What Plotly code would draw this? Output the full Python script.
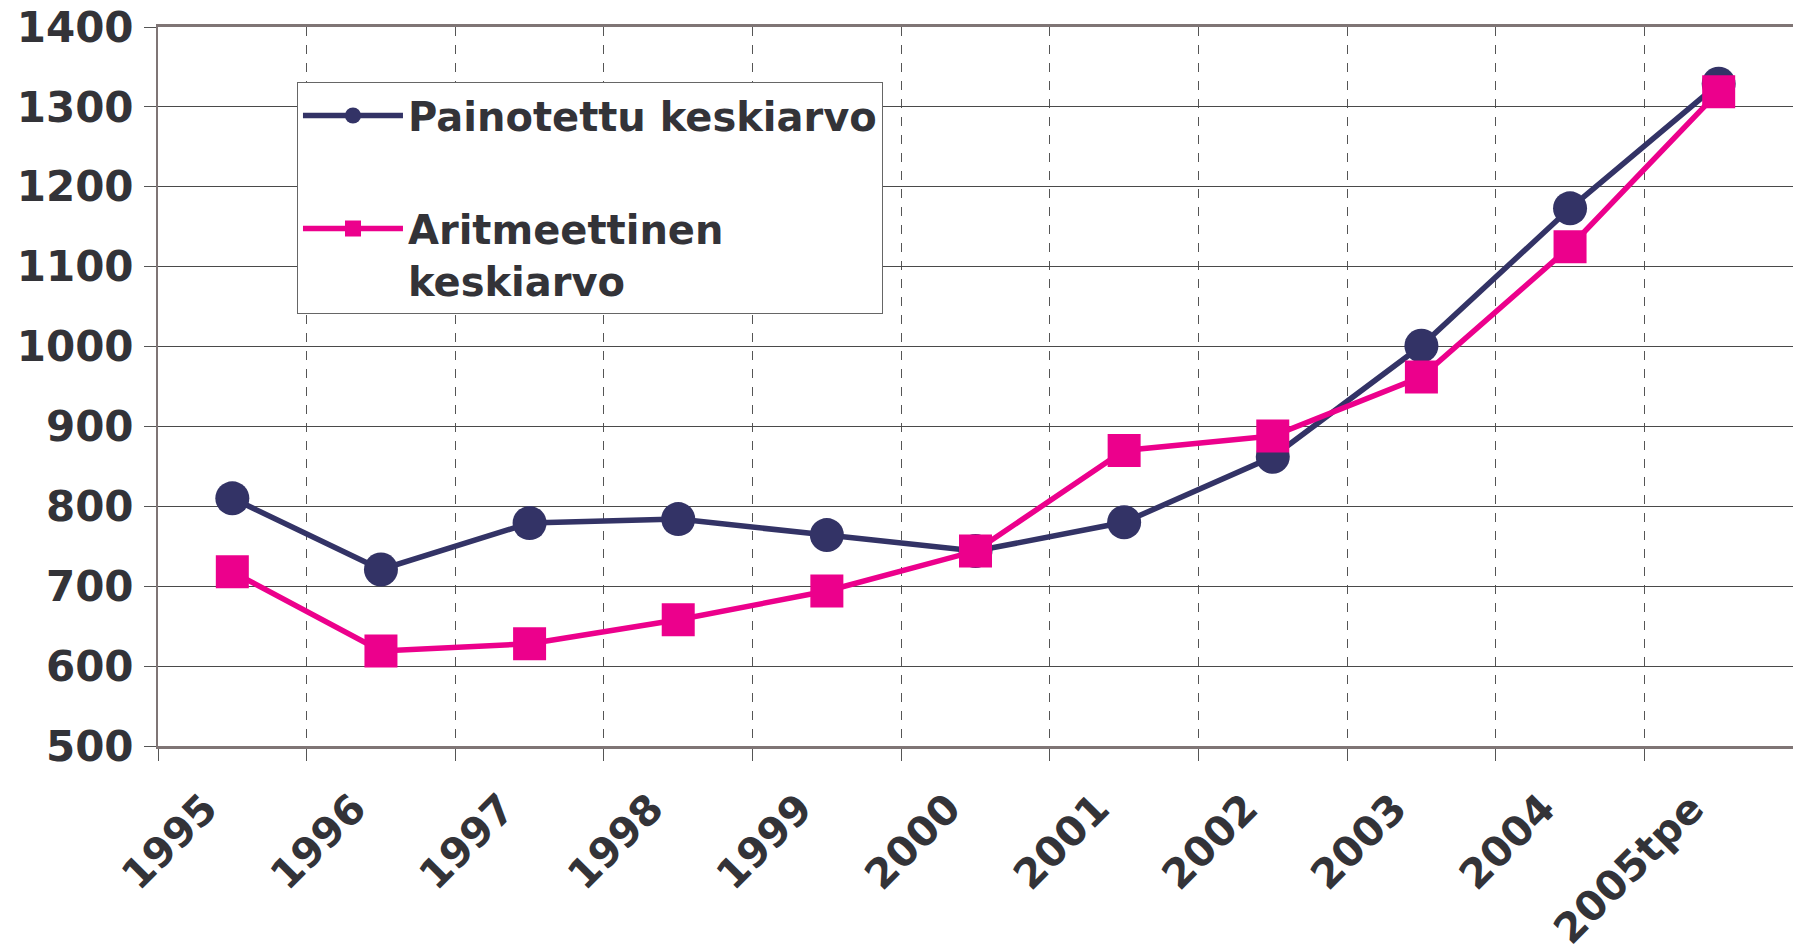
import plotly.graph_objects as go

years = ["1995", "1996", "1997", "1998", "1999", "2000", "2001", "2002", "2003", "2004", "2005tpe"]
painotettu = [810, 721, 779, 784, 764, 744, 780, 862, 1001, 1173, 1329]
aritmeettinen = [718, 619, 628, 658, 694, 744, 870, 888, 962, 1125, 1319]

NAVY = "#333366"
PINK = "#EC008C"
TXT = "#333338"
FONT = "DejaVu Sans"

fig = go.Figure()
fig.add_trace(go.Scatter(
    x=years, y=painotettu, name="Painotettu keskiarvo", mode="lines+markers",
    line=dict(color=NAVY, width=5.5), marker=dict(symbol="circle", size=34, color=NAVY),
    legendgroup="a",
))
fig.add_trace(go.Scatter(
    x=years, y=aritmeettinen, name="Aritmeettinen<br>keskiarvo", mode="lines+markers",
    line=dict(color=PINK, width=5.5), marker=dict(symbol="square", size=33, color=PINK),
    legendgroup="b",
))

fig.update_layout(
    width=1793, height=946,
    margin=dict(l=158, r=0, t=27, b=200, autoexpand=False),
    paper_bgcolor="white", plot_bgcolor="white",
    font=dict(family=FONT, color=TXT, size=40, weight="bold"),
    showlegend=True,
    legend=dict(
        x=0.085, y=0.9235, xanchor="left", yanchor="top",
        bgcolor="white", bordercolor="#666666", borderwidth=1,
        font=dict(family=FONT, size=40, color=TXT, weight="bold"),
        tracegroupgap=58, valign="top", itemwidth=100,
    ),
)
fig.update_xaxes(
    type="category", tickson="boundaries", automargin=False,
    showgrid=True, gridcolor="#555555", gridwidth=1, griddash="dash",
    showline=True, linecolor="#7f7575", linewidth=3, mirror=True,
    ticks="outside", ticklen=12, tickcolor="#555555", tickwidth=1,
    tickangle=-45, tickfont=dict(family=FONT, size=41, color=TXT, weight="bold"),
    ticklabelstandoff=19, ticklabelshift=-27, ticklabeloverflow="allow",
    range=[-0.5, 10.5], zeroline=False,
)
fig.update_yaxes(
    range=[500, 1400], dtick=100, tick0=500, automargin=False,
    showgrid=True, gridcolor="#4a4a4a", gridwidth=1,
    showline=True, linecolor="#7f7575", linewidth=2,
    ticks="outside", ticklen=12, tickcolor="#555555", tickwidth=1,
    tickfont=dict(family=FONT, size=42, color=TXT, weight="bold"),
    ticklabelstandoff=2, ticklabeloverflow="allow", zeroline=False,
)

fig.write_html(
    "out.html",
    config={"displayModeBar": False},
    post_script="document.body.style.margin='0';document.body.style.overflow='hidden';",
)
